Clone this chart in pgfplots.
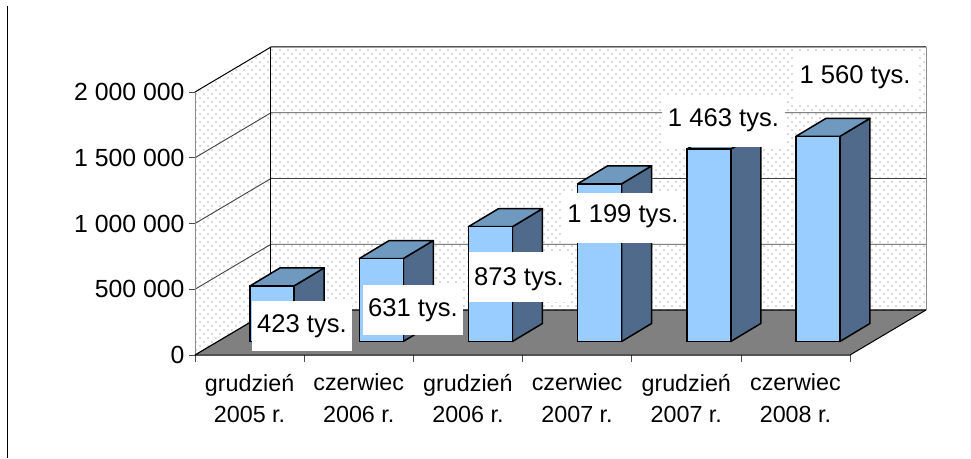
\documentclass[border=0pt]{standalone}
\usepackage{fontspec}
\setmainfont{Liberation Sans}
\usepackage{pgfplots}
\pgfplotsset{compat=1.18}
\usetikzlibrary{patterns}
\pgfdeclarepatternformonly{wdots}{\pgfqpoint{-1pt}{-1pt}}{\pgfqpoint{7pt}{7pt}}{\pgfqpoint{8pt}{8pt}}{%
  \pgfpathcircle{\pgfqpoint{0pt}{0pt}}{0.85pt}%
  \pgfpathcircle{\pgfqpoint{4pt}{4pt}}{0.85pt}%
  \pgfusepath{fill}}
\definecolor{barfront}{HTML}{99CCFF}
\definecolor{bartop}{HTML}{7099BF}
\definecolor{barside}{HTML}{4F6A8A}
\definecolor{floorc}{HTML}{808080}
\definecolor{dotc}{HTML}{B4B4B4}
\begin{document}
\begin{tikzpicture}[x=1pt,y=1pt]
\path[use as bounding box] (0,0) rectangle (971,458);
\draw[black,line width=1.4pt] (7.3,452) -- (7.3,0);
\begin{axis}[
  scale only axis, width=731pt, height=308pt,
  at={(195pt,103pt)}, anchor=south west,
  xmin=0, xmax=6.696, ymin=0, ymax=2342205,
  clip=false,
  axis line style={draw=none},
  tick align=outside,
  ytick={0,500000,1000000,1500000,2000000},
  ytick pos=left, xtick pos=bottom,
  scaled y ticks=false,
  major tick length=6pt, minor tick length=6.5pt,
  y tick style={draw=black!70,line width=0.7pt},
  xtick={0.5,1.5,2.5,3.5,4.5,5.5},
  major x tick style={draw=none},
  minor xtick={0,1,2,3,4,5,6},
  minor x tick style={draw=black!70,line width=0.7pt},
  xticklabels={{grudzień\\2005 r.},{czerwiec\\2006 r.},{grudzień\\2006 r.},{czerwiec\\2007 r.},{grudzień\\2007 r.},{czerwiec\\2008 r.}},
  xticklabel style={align=center,font=\fontsize{23.3}{31.7}\selectfont,anchor=north,yshift=-9.5pt},
  yticklabel style={font=\fontsize{24.8}{28}\selectfont,anchor=east,xshift=-1pt,
    /pgf/number format/fixed,
    /pgf/number format/assume math mode=true,
    /pgf/number format/1000 sep={\ }},
]
% walls and floor
\addplot[draw=none,pattern=wdots,pattern color=dotc] coordinates {(0.696,342205)(6.696,342205)(6.696,2342205)(0.696,2342205)} --cycle;
\addplot[draw=none,pattern=wdots,pattern color=dotc] coordinates {(0,0)(0.696,342205)(0.696,2342205)(0,2000000)} --cycle;
\addplot[draw=none,fill=floorc] coordinates {(0,0)(6,0)(6.696,342205)(0.696,342205)} --cycle;
% gridlines
\addplot[black!75,line width=0.9pt] coordinates {(0,500000)(0.696,842205)(6.696,842205)};
\addplot[black!75,line width=0.9pt] coordinates {(0,1000000)(0.696,1342205)(6.696,1342205)};
\addplot[black!75,line width=0.9pt] coordinates {(0,1500000)(0.696,1842205)(6.696,1842205)};
% frame
\addplot[black,line width=1pt] coordinates {(0,2000000)(0.696,2342205)(6.696,2342205)};
\addplot[black,line width=1pt] coordinates {(0.696,2342205)(0.696,342205)};
\addplot[black!45,line width=0.8pt] coordinates {(6.696,2342205)(6.696,342205)};
\addplot[black!45,line width=0.8pt] coordinates {(0,0)(0,2000000)};
\addplot[black,line width=1.2pt] coordinates {(0,0)(0.696,342205)(6.696,342205)};
\addplot[black,line width=1pt] coordinates {(0,0)(6,0)(6.696,342205)};
% bars: side and top faces
\tikzset{sidef/.style={fill=barside,draw=black,line width=1.5pt,line join=round,xshift=22.5pt,yshift=13.5pt},
         topf/.style={fill=bartop,draw=black,line width=1.5pt,line join=round,xshift=22.5pt,yshift=13.5pt}}
\addplot[sidef] coordinates {(0.7015,0)(0.9765,136900)(0.9765,559900)(0.7015,423000)} --cycle;
\addplot[topf]  coordinates {(0.2985,423000)(0.7015,423000)(0.9765,559900)(0.5735,559900)} --cycle;
\addplot[sidef] coordinates {(1.7015,0)(1.9765,136900)(1.9765,767900)(1.7015,631000)} --cycle;
\addplot[topf]  coordinates {(1.2985,631000)(1.7015,631000)(1.9765,767900)(1.5735,767900)} --cycle;
\addplot[sidef] coordinates {(2.7015,0)(2.9765,136900)(2.9765,1009900)(2.7015,873000)} --cycle;
\addplot[topf]  coordinates {(2.2985,873000)(2.7015,873000)(2.9765,1009900)(2.5735,1009900)} --cycle;
\addplot[sidef] coordinates {(3.7015,0)(3.9765,136900)(3.9765,1335900)(3.7015,1199000)} --cycle;
\addplot[topf]  coordinates {(3.2985,1199000)(3.7015,1199000)(3.9765,1335900)(3.5735,1335900)} --cycle;
\addplot[sidef] coordinates {(4.7015,0)(4.9765,136900)(4.9765,1599900)(4.7015,1463000)} --cycle;
\addplot[topf]  coordinates {(4.2985,1463000)(4.7015,1463000)(4.9765,1599900)(4.5735,1599900)} --cycle;
\addplot[sidef] coordinates {(5.7015,0)(5.9765,136900)(5.9765,1696900)(5.7015,1560000)} --cycle;
\addplot[topf]  coordinates {(5.2985,1560000)(5.7015,1560000)(5.9765,1696900)(5.5735,1696900)} --cycle;
% bars: front faces
\addplot[ybar,bar width=44pt,bar shift=0pt,fill=barfront,draw=black,line width=1.5pt,xshift=22.5pt,yshift=13.5pt]
  coordinates {(0.5,423000)(1.5,631000)(2.5,873000)(3.5,1199000)(4.5,1463000)(5.5,1560000)};
% value labels
\tikzset{vlab/.style={fill=white,inner sep=0pt,minimum height=50pt,font=\fontsize{25.6}{28}\selectfont}}
\node[vlab,minimum width=100pt] at (axis cs:0.980,220532) {423 tys.};
\node[vlab,minimum width=100pt] at (axis cs:1.997,342205) {631 tys.};
\node[vlab,minimum width=101pt] at (axis cs:2.968,593156) {\rule{0pt}{22.4pt}873 tys.};
\node[vlab,minimum width=120pt] at (axis cs:3.920,1041825) {\rule[-9.4pt]{0pt}{9.4pt}1 199 tys.};
\node[vlab,minimum width=123pt] at (axis cs:4.841,1771862) {\rule[-9.4pt]{0pt}{9.4pt}1 463 tys.};
\node[vlab,minimum width=124pt] at (axis cs:6.046,2106462) {\rule[-7.4pt]{0pt}{7.4pt}1 560 tys.};
\end{axis}
\end{tikzpicture}
\end{document}
